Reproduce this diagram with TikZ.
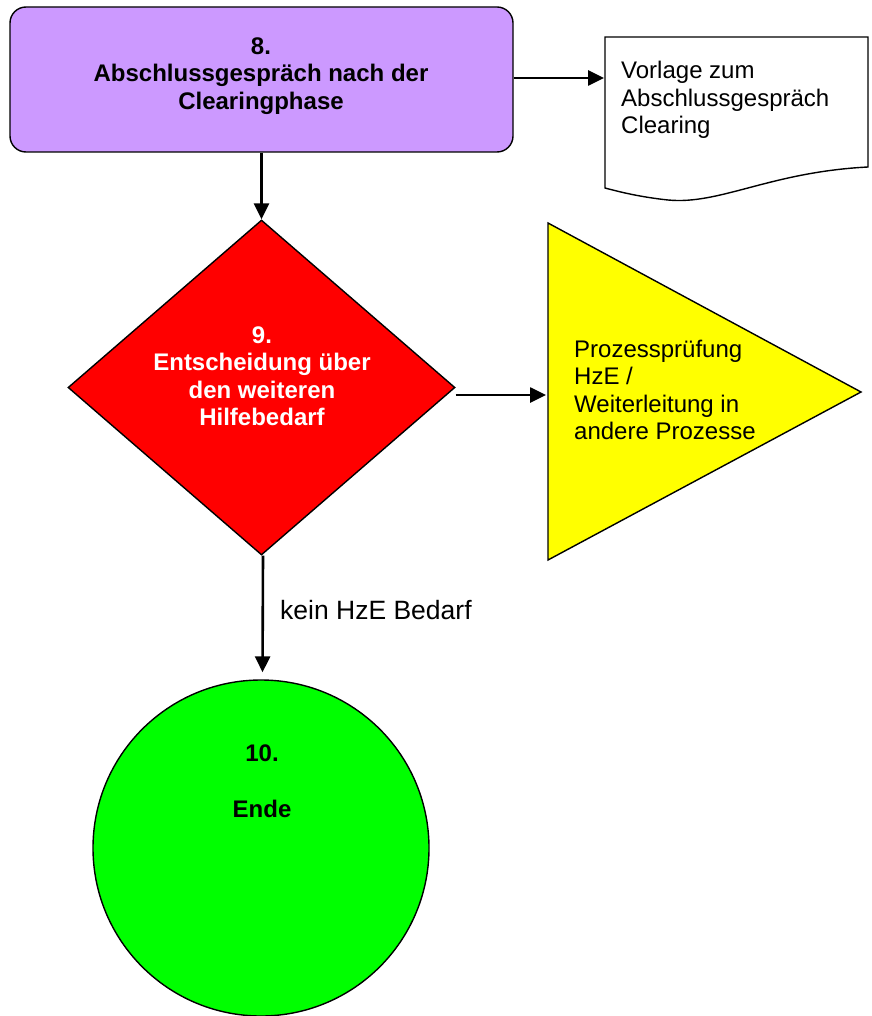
\documentclass[tikz,border=0pt]{standalone}
\usepackage{fontspec}
\setmainfont{Liberation Sans}
\usetikzlibrary{shapes.geometric,arrows.meta,calc}
\definecolor{boxpurple}{HTML}{CC99FF}
\definecolor{decred}{HTML}{FF0000}
\definecolor{procyellow}{HTML}{FFFF00}
\definecolor{endgreen}{HTML}{00FF00}
\begin{document}
\begin{tikzpicture}[x=1pt,y=-1pt,
  shapeline/.style={draw=black,line width=1.4pt},
  flow/.style={line width=2.6pt,-{Triangle[length=16pt,width=15pt]}},
  txt/.style={font=\fontsize{24}{27.5}\selectfont,inner sep=0pt},
  btxt/.style={txt,font=\fontsize{24}{27.5}\selectfont\bfseries,align=center}]
\useasboundingbox (0,0) rectangle (871,1016);

% step 8: rounded process box
\node[shapeline,fill=boxpurple,rounded corners=16pt,minimum width=503pt,
      minimum height=145pt,inner sep=0pt] (box8) at (261.5,79.5) {};
\node[btxt] (box8txt) at (261,76) {8.\\Abschlussgespräch nach der\\Clearingphase};

% document: template for the closing talk
\draw[shapeline,fill=white] (605,37) -- (868,37) -- (868,167)
  .. controls (770,172) and (720,205) .. (668,200)
  .. controls (640,197) and (620,192) .. (605,188) -- cycle;
\coordinate (docw) at (605,78);
\node[txt,align=left,anchor=west] (doc) at (621,100)
  {Vorlage zum\\Abschlussgespräch\\Clearing};

% step 9: decision diamond
\node[shapeline,fill=decred,diamond,minimum width=387pt,minimum height=335pt,
      inner sep=0pt] (dec9) at (261.5,387.5) {};
\node[btxt,text=white] (dec9txt) at (262,376)
  {9.\\Entscheidung über\\den weiteren\\Hilfebedarf};

% hand-over to other processes
\draw[shapeline,fill=procyellow] (548,223) -- (861,392) -- (548,560) -- cycle;
\coordinate (triw) at (548,395);
\node[txt,align=left,anchor=west] (tri) at (574,390)
  {Prozessprüfung\\HzE /\\Weiterleitung in\\andere Prozesse};

% step 10: end circle
\node[shapeline,fill=endgreen,circle,minimum size=336pt,inner sep=0pt]
  (end10) at (261,848) {};
\node[btxt,anchor=base] (end10num) at (262,761) {10.};
\node[btxt,anchor=base] (end10txt) at (262,817) {Ende};

% connectors
\draw[flow] (box8.east |- docw) -- ([xshift=-1pt]docw);
\draw[flow] (box8.south -| dec9.north) -- (dec9.north);
\draw[flow] (dec9.east |- triw) -- ([xshift=-2pt]triw);
\draw[flow,shorten >=7pt] ([xshift=1.5pt]dec9.south) -- ([xshift=1.5pt]end10.north);
\node[txt,font=\fontsize{26.5}{30}\selectfont,anchor=west] (nohze) at (280,610) {kein HzE Bedarf};
\end{tikzpicture}
\end{document}
